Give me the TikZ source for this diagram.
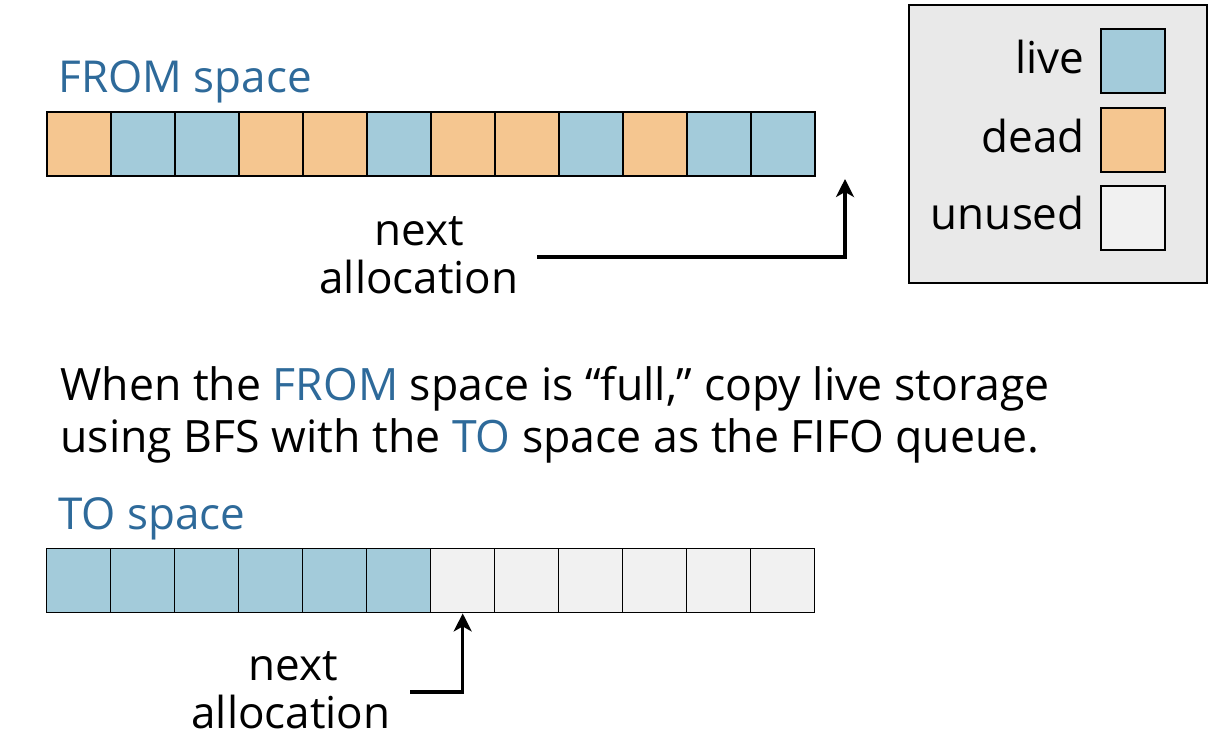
\documentclass[tikz,border=0pt]{standalone}
\usepackage{fontspec}
\setmainfont{Open Sans}
\definecolor{livec}{HTML}{A3CBDA}
\definecolor{deadc}{HTML}{F5C690}
\definecolor{unusedc}{HTML}{F1F1F1}
\definecolor{legbg}{HTML}{E9E9E9}
\definecolor{titleblue}{HTML}{2E6A9A}
\tikzset{
  cell/.style={draw=black, line width=1.1pt, minimum width=32pt, minimum height=32pt, inner sep=0pt, anchor=north west},
  tcell/.style={cell, line width=0.7pt},
  legcell/.style={draw=black, line width=0.8pt, minimum width=32pt, minimum height=32pt, inner sep=0pt, anchor=north west},
  txt/.style={font=\fontsize{22}{26}\selectfont, inner sep=0pt},
  title/.style={txt, text=titleblue, anchor=base west},
  ptr/.style={line width=1.6pt, -{Stealth[length=9pt,width=9pt,inset=2.5pt]}},
}
\usetikzlibrary{arrows.meta}
\begin{document}
\begin{tikzpicture}[x=0.5pt,y=-0.5pt]
\useasboundingbox (0,0) rectangle (1208,750);
% legend
\node[draw=black, line width=1pt, fill=legbg, minimum width=149pt, minimum height=139pt, inner sep=0pt, anchor=north west] (legend) at (908,4) {};
\node[legcell, fill=livec] (lglive) at (1100,28) {};
\node[legcell, fill=deadc] (lgdead) at (1100,107) {};
\node[legcell, fill=unusedc] (lgunused) at (1100,185) {};
\node[txt, anchor=base east] (tlive) at (1085,73) {live};
\node[txt, anchor=base east] (tdead) at (1085,152) {dead};
\node[txt, anchor=base east] (tunused) at (1085,229) {unused};
% FROM space
\node[title] (fromlbl) at (58,92) {FROM space};
\foreach \c [count=\i from 0] in {deadc,livec,livec,deadc,deadc,livec,deadc,deadc,livec,deadc,livec,livec}{
  \node[cell, fill=\c] (f\i) at ({46+64*\i},111) {};
}
\node[txt, anchor=base] (fnext) at (419,245) {next};
\node[txt, anchor=base] (falloc) at (419,293) {allocation};
\coordinate (fstart) at (537,257);
\coordinate (ftip) at (845,179);
\draw[ptr] (fstart) -| (ftip);
% middle text
\node[txt, anchor=base west, font=\fontsize{22.3}{26}\selectfont] (line1) at (60,400) {When the \textcolor{titleblue}{FROM} space is “full,” copy live storage};
\node[txt, anchor=base west, font=\fontsize{22.3}{26}\selectfont] (line2) at (60,452) {using BFS with the \textcolor{titleblue}{TO} space as the FIFO queue.};
% TO space
\node[title] (tolbl) at (58,529) {TO space};
\foreach \c [count=\i from 0] in {livec,livec,livec,livec,livec,livec,unusedc,unusedc,unusedc,unusedc,unusedc,unusedc}{
  \node[tcell, fill=\c] (t\i) at ({46+64*\i},548) {};
}
\node[txt, anchor=base] (tnext) at (293,680) {next};
\node[txt, anchor=base] (talloc) at (291,728) {allocation};
\coordinate (tstart) at (410,692);
\draw[ptr] (tstart) -| (t6.south);
\end{tikzpicture}
\end{document}
